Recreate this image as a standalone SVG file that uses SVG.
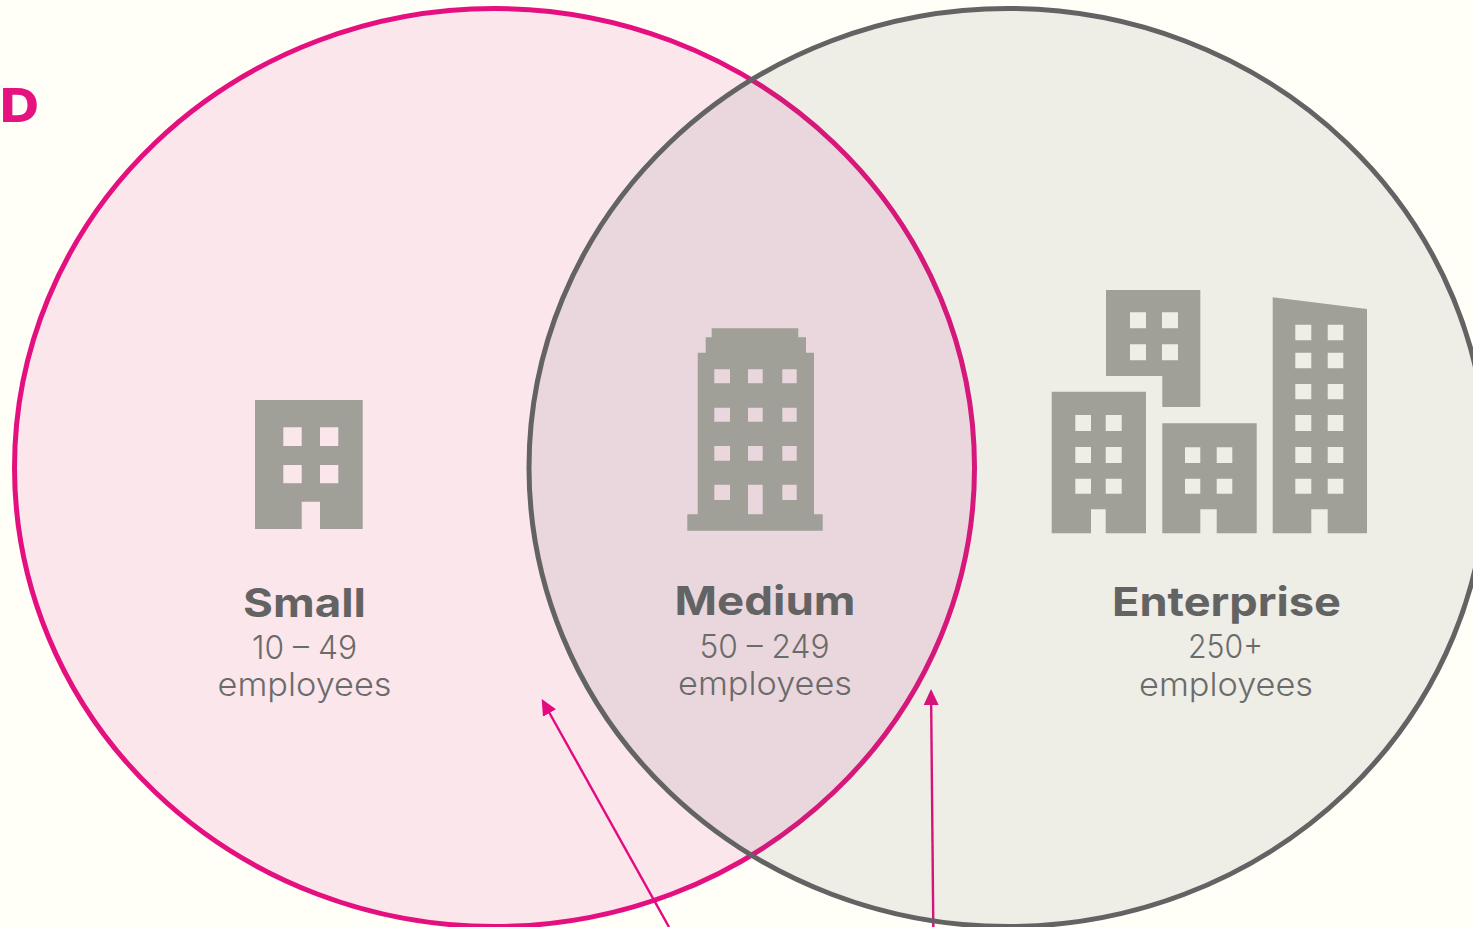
<svg xmlns="http://www.w3.org/2000/svg" width="1473" height="927" viewBox="0 0 1473 927">
<style>
.icon{fill:#A09F98;fill-rule:evenodd}
.title{font-family:Inter,"Liberation Sans",sans-serif;font-weight:700;font-size:40px;fill:#636363;text-anchor:middle}
.sub{font-family:Inter,"Liberation Sans",sans-serif;font-weight:300;font-size:33px;fill:#6b6b6b;text-anchor:middle}
.conn{stroke:#E5097F;stroke-width:2.4;fill:none;marker-end:url(#head)}
</style>
<defs>
<marker id="head" markerUnits="userSpaceOnUse" markerWidth="16" markerHeight="16" refX="8" refY="8" orient="auto"><path d="M0,0.5 L16,8 L0,15.5 Z" fill="#E5097F"/></marker>
</defs>
<rect width="1473" height="927" fill="#FFFEF7"/>
<text x="0" y="122" font-family="Inter,'Liberation Sans',sans-serif" font-weight="800" font-size="46" fill="#E5127F" textLength="39" lengthAdjust="spacingAndGlyphs">D</text>
<g id="node-small">
<ellipse cx="494.5" cy="467.5" rx="480" ry="459" fill="#FBE6EC" stroke="#E5107F" stroke-width="5"/>
<path class="icon" d="M255,400H362.7V529H320V501.7H301.7V529H255Z M283.3,427.3V446H301.7V427.3Z M320,427.3V446H338.3V427.3Z M283.3,465V483.3H301.7V465Z M320,465V483.3H338.3V465Z"/>
<text class="title" x="304.5" y="617" textLength="123" lengthAdjust="spacingAndGlyphs">Small</text>
<text class="sub" x="304.5" y="659" textLength="105" lengthAdjust="spacingAndGlyphs">10 – 49</text>
<text class="sub" x="304.5" y="696" textLength="174" lengthAdjust="spacingAndGlyphs">employees</text>
</g>
<g id="connectors">
<line class="conn" x1="669" y1="927" x2="545.6" y2="706"/>
<line class="conn" x1="933.3" y1="927" x2="931.1" y2="697"/>
</g>
<g id="node-enterprise">
<ellipse cx="1008" cy="467.5" rx="479" ry="459" fill="#636363" fill-opacity="0.105" stroke="none"/>
<ellipse cx="1008" cy="467.5" rx="479" ry="459" fill="none" stroke="#636363" stroke-width="5"/>
<path class="icon" d="M1106,290H1200.3V407H1162.3V376H1106Z M1130,312.3V328.3H1146V312.3Z M1162,312.3V328.3H1178V312.3Z M1130,344.3V360.3H1146V344.3Z M1162,344.3V360.3H1178V344.3Z"/>
<path class="icon" d="M1051.7,391.7H1146V533.3H1105.7V509.3H1091V533.3H1051.7Z M1075.3,415V431H1091V415Z M1105.7,415V431H1121.7V415Z M1075.3,447V463H1091V447Z M1105.7,447V463H1121.7V447Z M1075.3,478.7V493.7H1091V478.7Z M1105.7,478.7V493.7H1121.7V478.7Z"/>
<path class="icon" d="M1162.3,423.3H1256.7V533.3H1216.7V509.3H1200.3V533.3H1162.3Z M1185,447.3V463H1200.3V447.3Z M1216.7,447.3V463H1232.3V447.3Z M1185,478.7V493.7H1200.3V478.7Z M1216.7,478.7V493.7H1232.3V478.7Z"/>
<path class="icon" d="M1272.7,297.3L1367,309V533.3H1327.7V509.3H1311.3V533.3H1272.7Z M1295.3,324.7V340.3H1311.3V324.7Z M1327.7,324.7V340.3H1343.3V324.7Z M1295.3,352.7V368.3H1311.3V352.7Z M1327.7,352.7V368.3H1343.3V352.7Z M1295.3,384V399.3H1311.3V384Z M1327.7,384V399.3H1343.3V384Z M1295.3,415V431H1311.3V415Z M1327.7,415V431H1343.3V415Z M1295.3,447V463H1311.3V447Z M1327.7,447V463H1343.3V447Z M1295.3,478.7V493.7H1311.3V478.7Z M1327.7,478.7V493.7H1343.3V478.7Z"/>
<text class="title" x="1226.5" y="616" textLength="229" lengthAdjust="spacingAndGlyphs">Enterprise</text>
<text class="sub" x="1225.5" y="658" textLength="75" lengthAdjust="spacingAndGlyphs">250+</text>
<text class="sub" x="1226" y="696" textLength="174" lengthAdjust="spacingAndGlyphs">employees</text>
</g>
<g id="node-medium">
<path class="icon" d="M711.7,328.3H798.3V337.3H806V352.7H814V514.3H822.7V530.7H687.3V514.3H697.7V352.7H705.7V337.3H711.7Z M714.3,369.3V383.3H730V369.3Z M748,369.3V383.3H762.7V369.3Z M782.3,369.3V383.3H796.7V369.3Z M714.3,407.7V421.7H730V407.7Z M748,407.7V421.7H762.7V407.7Z M782.3,407.7V421.7H796.7V407.7Z M714.3,446V460.7H730V446Z M748,446V460.7H762.7V446Z M782.3,446V460.7H796.7V446Z M714.3,484.7V500H730V484.7Z M748,484.7V514.3H762.7V484.7Z M782.3,484.7V500H796.7V484.7Z"/>
<text class="title" x="765" y="615" textLength="181" lengthAdjust="spacingAndGlyphs">Medium</text>
<text class="sub" x="764.5" y="658" textLength="130" lengthAdjust="spacingAndGlyphs">50 – 249</text>
<text class="sub" x="765" y="695" textLength="174" lengthAdjust="spacingAndGlyphs">employees</text>
</g>
</svg>
